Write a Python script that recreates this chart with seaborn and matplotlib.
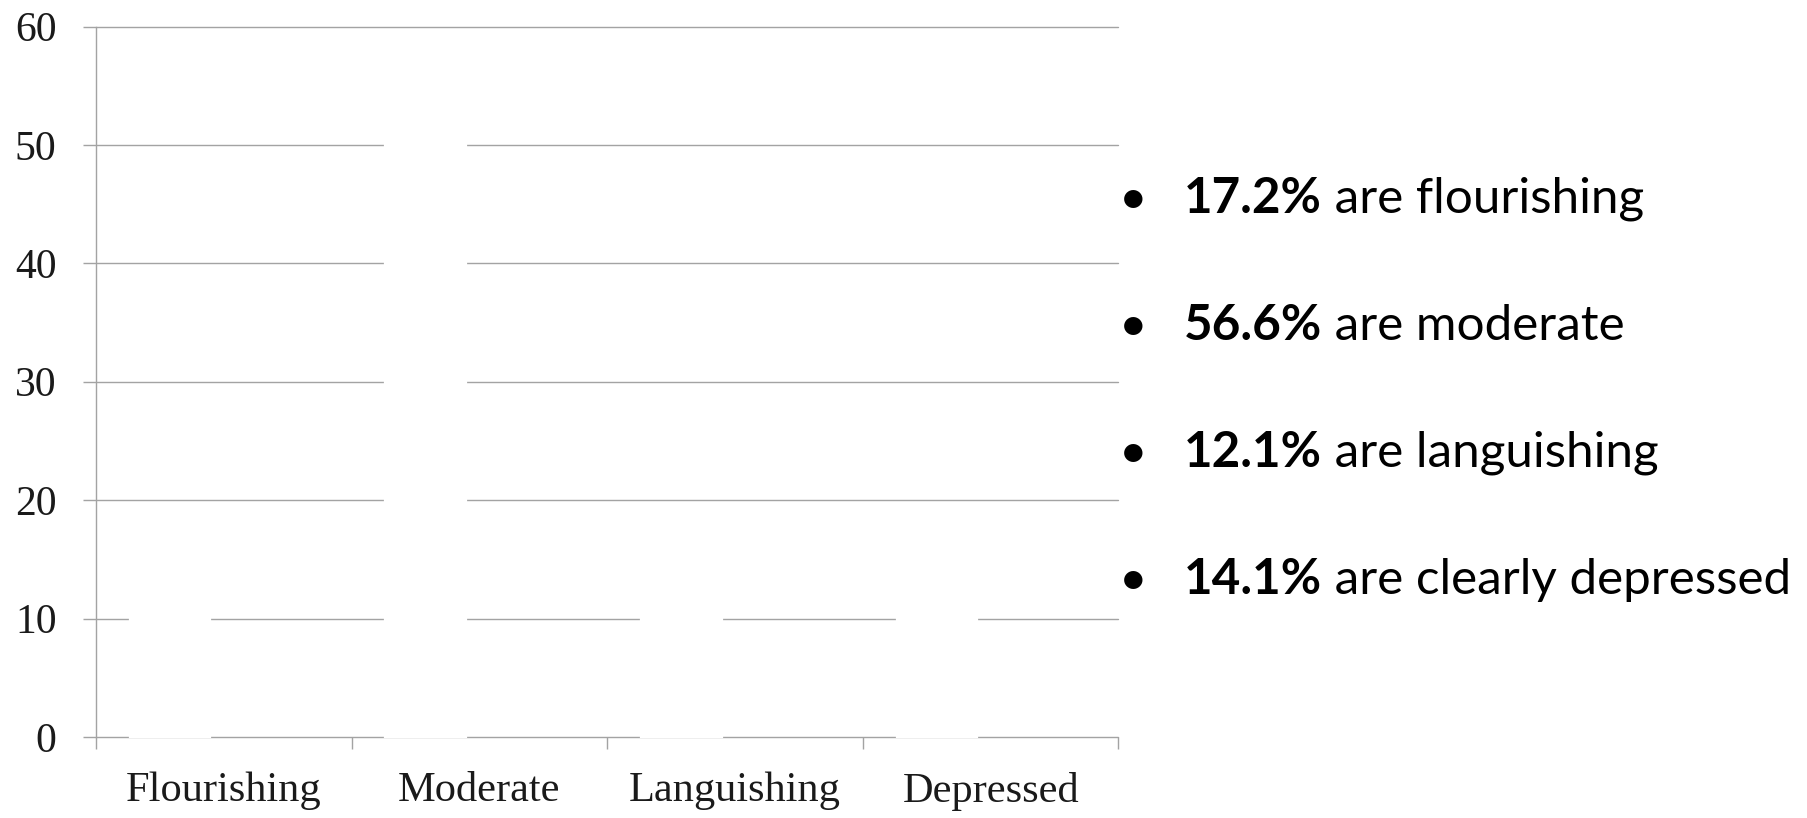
import matplotlib
matplotlib.use("Agg")
import matplotlib.pyplot as plt
import seaborn as sns
import pandas as pd

# ---- data ----
categories = ["Flourishing", "Moderate", "Languishing", "Depressed"]
values = [17.2, 56.6, 12.1, 14.1]
series_name = "Share"
y_ticks = [0, 10, 20, 30, 40, 50, 60]
bullet_bold = ["17.2%", "56.6%", "12.1%", "14.1%"]
bullet_rest = ["are flourishing", "are moderate", "are languishing", "are clearly depressed"]

sns.set_theme(style="white")
plt.rcParams["font.family"] = ["Liberation Serif", "DejaVu Serif"]

grid_col = "#a3a3a3"
W, H = 1808, 818
fig = plt.figure(figsize=(W / 100, H / 100), dpi=100)
ax = fig.add_axes([96 / W, 81 / H, (1118.5 - 96) / W, (737 - 26.5) / H])

df = pd.DataFrame({"category": categories, "value": values, "series": series_name})
sns.barplot(data=df, x="category", y="value", hue="series",
            hue_order=[series_name, "Other"],
            palette={series_name: "white", "Other": "white"},
            order=categories, width=0.84, gap=0.248, dodge=True,
            edgecolor="white", linewidth=1.6, legend=False, ax=ax, zorder=3)
for p in ax.patches:
    p.set_clip_on(False)

ax.set_axisbelow(True)
ax.set_ylim(0, 60)
ax.set_xlim(-0.5, len(categories) - 0.5)
ax.set_yticks(y_ticks)
ax.set_yticklabels([str(t) for t in y_ticks])
ax.yaxis.grid(True, color=grid_col, linewidth=1.0, zorder=0)
ax.xaxis.grid(False)
ax.set_xlabel("")
ax.set_ylabel("")
for gl in ax.get_ygridlines():
    gl.set_clip_on(False)

for s in ["top", "right", "bottom"]:
    ax.spines[s].set_visible(False)
ax.spines["left"].set_color(grid_col)
ax.spines["left"].set_linewidth(1.0)
ax.spines["left"].set_zorder(4)

ax.tick_params(axis="y", which="major", length=9.4, width=1.0, color=grid_col,
               labelsize=30, pad=19, labelcolor="#1a1a1a", left=True)
# category labels at centres (no tick), tick marks at category boundaries
ax.tick_params(axis="x", which="major", length=0, labelsize=30.5, pad=25,
               labelcolor="#1a1a1a", bottom=True)
ax.set_xticks(range(len(categories)), minor=False)
ax.set_xticklabels(categories)
ax.set_xticks([i - 0.5 for i in range(len(categories) + 1)], minor=True)
ax.tick_params(axis="x", which="minor", length=8.6, width=1.0, color=grid_col,
               direction="out", bottom=True)

# ---- bullet text on the right ----
base_y = [213, 340, 467, 594]
fs = 35.6
for b, r, yb in zip(bullet_bold, bullet_rest, base_y):
    fy = 1 - yb / H
    fig.text(1133 / W, fy, "\u2022", ha="center", va="baseline",
             fontsize=fs, family=["Lato", "DejaVu Sans"], color="black")
    t = fig.text(1184 / W, fy, b, ha="left", va="baseline", fontsize=fs,
                 fontweight="bold", family=["Lato", "DejaVu Sans"], color="black")
    ax.annotate(" " + r, xy=(1, 0), xycoords=t, xytext=(0, 0),
                textcoords="offset points", ha="left", va="bottom",
                fontsize=fs, family=["Lato", "DejaVu Sans"], color="black",
                annotation_clip=False)

fig.savefig("out.png", dpi=100, facecolor="white")
